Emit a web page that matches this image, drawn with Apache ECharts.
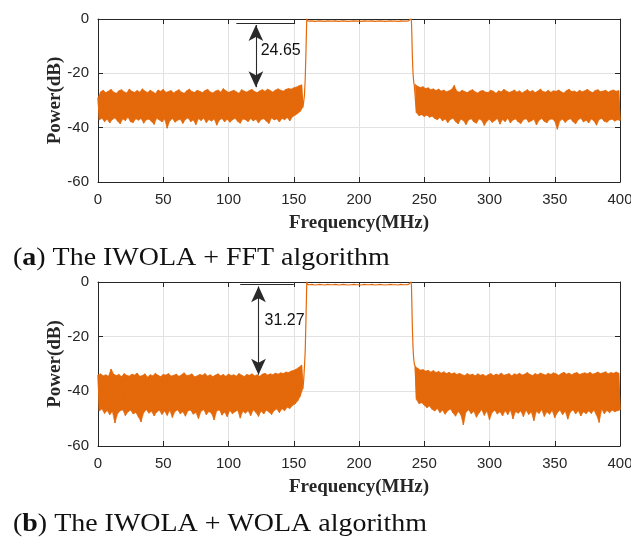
<!DOCTYPE html>
<html><head><meta charset="utf-8">
<script src="https://cdn.jsdelivr.net/npm/echarts@6/dist/echarts.min.js"></script>
<style>html,body{margin:0;padding:0;background:#fff;overflow:hidden;width:631px;height:541px}#c{width:631px;height:541px;overflow:hidden}</style>
</head><body><div id="c"></div>
<script>
// ---------- axis ticks ----------
const xTicks = [0, 50, 100, 150, 200, 250, 300, 350, 400];
const yTicks = [-60, -40, -20, 0];

// ---------- panel (a): IWOLA + FFT ----------
// noise floor below band: peaks (at 0,2,...,156 MHz) and troughs (at 1,3,...,157 MHz)
const aLeftHi = [
-29.0,-26.8,-26.2,-27.1,-26.5,-25.9,-26.9,-27.3,-26.4,-26.0,
-26.8,-27.2,-25.8,-26.6,-27.0,-26.3,-26.9,-25.7,-26.5,-27.1,
-26.2,-26.8,-27.4,-26.1,-26.6,-25.9,-27.0,-26.7,-26.3,-27.2,
-26.5,-26.0,-26.9,-27.3,-26.4,-25.8,-26.7,-27.0,-26.2,-26.6,
-27.1,-26.3,-25.9,-26.8,-27.2,-26.5,-26.1,-26.9,-25.6,-26.4,
-27.0,-26.6,-26.2,-26.8,-27.3,-26.0,-26.5,-26.9,-26.3,-25.9,
-26.7,-27.1,-26.4,-26.0,-26.6,-25.8,-26.3,-26.9,-26.1,-25.7,
-26.2,-26.5,-25.9,-25.6,-25.8,-25.3,-25.0,-24.6,-24.2];
const aLeftLo = [
-37.2,-36.5,-37.8,-36.9,-38.3,-37.0,-36.4,-37.6,-38.6,-36.8,
-37.4,-36.2,-37.9,-38.1,-36.7,-37.3,-36.6,-38.4,-37.1,-36.9,
-37.7,-38.8,-36.5,-37.2,-37.9,-36.8,-40.2,-37.5,-36.6,-38.0,
-37.3,-36.9,-38.5,-37.0,-36.4,-37.8,-37.2,-38.9,-36.7,-37.4,
-36.5,-38.2,-37.0,-37.6,-36.8,-39.1,-37.3,-36.6,-37.9,-36.9,
-38.0,-37.2,-36.5,-37.7,-38.4,-36.8,-37.1,-37.8,-36.6,-37.5,
-36.9,-38.3,-37.0,-36.7,-37.6,-38.5,-36.4,-37.2,-36.8,-37.9,
-36.6,-37.1,-36.3,-37.5,-36.0,-35.4,-34.8,-34.0,-32.5];
// rising edge
const aRiseF = [157.6,158.2,158.8,159.3,159.7,160.0,160.4,161.0];
const aRiseV = [-30.5,-28.0,-22.0,-13.0,-5.0,0.3,-0.6,-0.8];
// passband at 162,164,...,238 MHz
const aPass = [
-0.8,-0.7,-0.9,-0.8,-0.7,-0.8,-0.9,-0.7,-0.8,-0.8,
-0.7,-0.9,-0.8,-0.7,-0.8,-0.9,-0.8,-0.7,-0.8,-0.8,
-0.9,-0.7,-0.8,-0.8,-0.7,-0.9,-0.8,-0.7,-0.8,-0.9,
-0.8,-0.7,-0.8,-0.8,-0.9,-0.7,-0.8,-0.8,-0.7];
// falling edge
const aFallF = [239.4,239.9,240.2,240.5,240.9,241.4,241.9,242.4];
const aFallV = [-0.7,0.2,-1.0,-6.0,-14.0,-20.0,-23.0,-24.5];
// noise floor above band: peaks (243,245,...,399) and troughs (244,...,400)
const aRightHi = [
-24.0,-24.8,-25.2,-24.9,-25.6,-25.3,-26.0,-25.7,-26.3,-25.8,
-26.5,-26.1,-26.8,-26.4,-25.9,-24.4,-26.6,-26.9,-26.2,-26.7,
-27.1,-26.4,-26.0,-26.8,-27.2,-26.5,-26.3,-26.9,-27.0,-26.2,
-26.6,-27.3,-26.4,-26.8,-25.9,-26.5,-27.0,-26.7,-26.1,-26.9,
-26.4,-27.2,-26.6,-26.0,-26.8,-26.3,-27.1,-26.5,-25.8,-26.7,
-26.9,-26.2,-27.0,-26.4,-26.6,-26.1,-26.8,-27.2,-26.3,-25.9,
-26.7,-26.5,-27.0,-26.2,-26.8,-26.4,-25.9,-26.6,-27.1,-26.3,
-26.0,-26.7,-26.5,-26.2,-26.9,-26.4,-26.1,-26.6,-26.3];
const aRightLo = [
-34.5,-35.6,-35.2,-35.9,-35.4,-36.2,-35.8,-36.6,-37.1,-36.3,
-37.5,-36.8,-38.2,-37.0,-36.5,-37.8,-38.6,-36.9,-37.4,-38.9,
-37.2,-36.7,-37.9,-38.4,-36.8,-37.3,-39.2,-37.6,-36.9,-38.1,
-37.4,-36.6,-38.7,-37.0,-37.8,-36.5,-38.3,-37.2,-36.8,-37.9,
-38.5,-37.1,-36.7,-38.0,-37.5,-36.9,-39.0,-37.3,-36.6,-37.7,
-38.2,-37.0,-36.8,-37.6,-40.6,-37.4,-36.9,-38.1,-37.2,-36.7,
-37.8,-38.6,-37.1,-36.5,-37.9,-37.3,-38.3,-36.8,-37.5,-39.1,
-37.0,-36.6,-37.7,-38.0,-37.2,-36.9,-37.6,-37.1,-37.4];

// ---------- panel (b): IWOLA + WOLA ----------
const bLeftHi = [
-34.0,-33.6,-34.3,-33.9,-34.5,-31.8,-33.7,-34.2,-33.8,-34.6,
-33.5,-34.1,-34.4,-33.7,-34.0,-33.3,-34.5,-34.2,-33.6,-34.8,
-33.9,-34.3,-33.4,-34.1,-34.6,-33.8,-34.0,-33.5,-34.4,-34.1,
-33.7,-34.5,-33.9,-33.2,-34.2,-34.0,-33.6,-34.7,-34.3,-33.8,
-34.1,-33.5,-34.4,-33.9,-34.6,-34.0,-33.6,-34.3,-33.8,-34.5,
-33.7,-34.2,-33.9,-34.4,-33.5,-34.0,-34.6,-33.8,-34.1,-33.6,
-34.3,-33.9,-34.5,-33.7,-33.4,-34.0,-33.6,-33.9,-33.3,-33.7,
-33.2,-33.5,-32.9,-33.1,-32.6,-32.3,-31.8,-31.2,-30.4];
const bLeftLo = [
-47.2,-46.5,-48.1,-47.0,-48.6,-47.4,-51.6,-48.2,-47.1,-46.8,
-48.9,-47.5,-46.9,-48.3,-47.7,-49.4,-51.2,-47.8,-46.7,-48.0,
-47.3,-49.0,-47.6,-46.9,-48.5,-47.2,-48.8,-47.0,-49.6,-47.4,
-46.8,-48.2,-47.5,-49.1,-47.1,-46.9,-48.4,-47.7,-50.0,-47.3,
-46.7,-48.6,-47.4,-48.1,-50.5,-47.2,-46.8,-48.7,-47.6,-49.3,
-47.0,-48.2,-47.5,-46.9,-49.8,-47.3,-48.0,-47.1,-48.9,-46.8,
-47.7,-49.2,-47.2,-48.3,-46.9,-47.6,-48.5,-47.0,-46.5,-47.8,
-46.4,-47.1,-45.8,-46.3,-45.2,-44.6,-43.5,-41.8,-39.0];
const bRiseF = [157.6,158.2,158.8,159.3,159.7,160.0,160.4,161.0];
const bRiseV = [-36.0,-31.0,-25.0,-15.0,-6.0,0.2,-0.9,-1.0];
const bPass = [
-1.0,-0.9,-1.1,-1.0,-0.9,-1.0,-1.1,-0.9,-1.0,-1.0,
-0.9,-1.1,-1.0,-0.9,-1.0,-1.1,-1.0,-0.9,-1.0,-1.0,
-1.1,-0.9,-1.0,-1.0,-0.9,-1.1,-1.0,-0.9,-1.0,-1.1,
-1.0,-0.9,-1.0,-1.0,-1.1,-0.9,-1.0,-1.0,-0.9];
const bFallF = [239.4,239.9,240.2,240.5,240.9,241.4,241.9,242.4];
const bFallV = [-0.9,0.1,-1.5,-8.0,-17.0,-24.0,-28.0,-30.0];
const bRightHi = [
-30.8,-31.6,-32.2,-32.0,-32.6,-32.3,-32.9,-32.4,-33.1,-32.7,
-33.3,-32.8,-33.5,-33.0,-33.6,-33.2,-33.8,-33.4,-33.9,-34.2,
-33.5,-34.0,-33.7,-34.3,-33.6,-34.1,-33.8,-34.4,-33.9,-33.5,
-34.2,-33.7,-34.0,-33.3,-34.1,-33.8,-33.5,-34.3,-33.6,-33.9,
-33.4,-34.0,-33.7,-33.1,-33.8,-34.2,-33.5,-33.9,-33.3,-33.7,
-34.0,-33.4,-33.8,-33.2,-33.6,-34.1,-33.5,-33.0,-33.7,-33.3,
-33.9,-33.4,-33.1,-33.8,-33.5,-33.2,-33.6,-33.0,-33.7,-33.4,
-32.9,-33.5,-33.2,-32.8,-33.6,-33.1,-33.4,-32.9,-33.3];
const bRightLo = [
-43.0,-44.5,-44.2,-45.1,-46.0,-45.4,-46.6,-47.2,-46.3,-47.8,
-46.9,-48.4,-47.1,-46.5,-47.9,-49.1,-47.4,-48.6,-52.3,-47.6,
-46.8,-48.2,-47.3,-49.5,-47.9,-46.7,-48.8,-47.2,-50.4,-47.7,
-46.9,-48.3,-47.5,-49.0,-47.1,-48.6,-46.8,-50.1,-47.4,-48.0,
-47.2,-49.3,-46.9,-48.5,-47.6,-50.8,-47.3,-48.1,-46.7,-49.2,
-47.5,-48.4,-47.0,-49.7,-47.8,-46.9,-48.6,-47.3,-50.2,-47.6,
-46.8,-48.3,-47.1,-49.0,-47.5,-48.2,-47.2,-48.1,-46.9,-48.7,
-51.4,-46.6,-48.2,-47.0,-47.8,-46.9,-47.5,-47.1,-46.8];

// ---------- annotations (data units) ----------
const annA = {lineY: -1.4, lineX1: 106, lineX2: 151, arrowX: 121, arrowTop: -2.2, arrowBottom: -25.1, text: '24.65', textX: 140, textY: -11.7};
const annB = {lineY: -0.9, lineX1: 109, lineX2: 150, arrowX: 123, arrowTop: -1.6, arrowBottom: -33.9, text: '31.27', textX: 143, textY: -14.3};

const captionA = '({b|a}) The IWOLA + FFT algorithm';
const captionB = '({b|b}) The IWOLA + WOLA algorithm';

// ---------- build series ----------
function zig(startF, hi, lo) {
  const out = [];
  for (let i = 0; i < hi.length; i++) {
    out.push([startF + 2 * i, hi[i]]);
    out.push([startF + 2 * i + 1, lo[i]]);
  }
  return out;
}
// outline of the noise band: peaks forward, troughs backward
function band(startF, hi, lo) {
  const top = hi.map((v, i) => [startF + 2 * i, v]);
  const bot = lo.map((v, i) => [startF + 2 * i + 1, v]).reverse();
  return top.concat(bot);
}
function pairs(f, v) { return f.map((x, i) => [x, v[i]]); }
function passPts(v) { return v.map((y, i) => [162 + 2 * i, y]); }
function spectrum(lh, ll, rf, rv, pb, ff, fv, rh, rl) {
  return [].concat(zig(0, lh, ll), pairs(rf, rv), passPts(pb), pairs(ff, fv), zig(243, rh, rl));
}
const specA = spectrum(aLeftHi, aLeftLo, aRiseF, aRiseV, aPass, aFallF, aFallV, aRightHi, aRightLo);
const specB = spectrum(bLeftHi, bLeftLo, bRiseF, bRiseV, bPass, bFallF, bFallV, bRightHi, bRightLo);
const bandsA = [band(0, aLeftHi, aLeftLo), band(243, aRightHi, aRightLo)];
const bandsB = [band(0, bLeftHi, bLeftLo), band(243, bRightHi, bRightLo)];

const ORANGE = '#E4690B';
const AX = '#262626';
const labelFont = {fontFamily: 'Liberation Sans, Arial, sans-serif', fontSize: 15, color: AX};
const nameFont = {fontFamily: 'Liberation Serif, Times New Roman, serif', fontWeight: 'bold', fontSize: 19, color: AX};

function xMain(gi) {
  return {type: 'value', gridIndex: gi, min: 0, max: 400, interval: 50, position: 'bottom',
    name: 'Frequency(MHz)', nameLocation: 'middle', nameGap: 32, nameTextStyle: nameFont,
    nameMoveOverlap: false,
    axisLine: {show: true, onZero: false, lineStyle: {color: AX, width: 1}},
    axisTick: {show: true, inside: true, length: 5, lineStyle: {color: AX}},
    axisLabel: Object.assign({margin: 10, hideOverlap: false}, labelFont),
    splitLine: {show: true, lineStyle: {color: '#E2E2E2', width: 1}}};
}
function xTop(gi) {
  return {type: 'value', gridIndex: gi, min: 0, max: 400, interval: 50, position: 'top',
    axisLine: {show: true, onZero: false, lineStyle: {color: AX, width: 1}},
    axisTick: {show: true, inside: true, length: 5, lineStyle: {color: AX}},
    axisLabel: {show: false}, splitLine: {show: false}};
}
function yMain(gi) {
  return {type: 'value', gridIndex: gi, min: -60, max: 0, interval: 20, position: 'left',
    name: 'Power(dB)', nameLocation: 'middle', nameGap: 33, nameTextStyle: nameFont,
    nameMoveOverlap: false,
    axisLine: {show: true, onZero: false, lineStyle: {color: AX, width: 1}},
    axisTick: {show: true, inside: true, length: 5, lineStyle: {color: AX}},
    axisLabel: Object.assign({margin: 9}, labelFont),
    splitLine: {show: true, lineStyle: {color: '#E2E2E2', width: 1}}};
}
function yRight(gi) {
  return {type: 'value', gridIndex: gi, min: -60, max: 0, interval: 20, position: 'right',
    axisLine: {show: true, onZero: false, lineStyle: {color: AX, width: 1}},
    axisTick: {show: true, inside: true, length: 5, lineStyle: {color: AX}},
    axisLabel: {show: false}, splitLine: {show: false}};
}
function bandSeries(outline, xi, yi) {
  return {type: 'custom', xAxisIndex: xi, yAxisIndex: yi, data: outline, silent: true, z: 2,
    encode: {x: 0, y: 1},
    renderItem: function (params, api) {
      if (params.dataIndex !== 0) return null;
      const pts = outline.map(p => api.coord(p));
      return {type: 'polygon', shape: {points: pts},
        style: {fill: ORANGE, stroke: ORANGE, lineWidth: 0.6}};
    }};
}
function specSeries(data, xi, yi, ann) {
  const arrowSym = {symbol: 'arrow', symbolSize: [11, 16]};
  return {type: 'line', xAxisIndex: xi, yAxisIndex: yi, data: data, showSymbol: false,
    symbol: 'none', lineStyle: {color: ORANGE, width: 1.2}, itemStyle: {color: ORANGE},
    silent: true, z: 3,
    markLine: {silent: true, symbol: ['none', 'none'], animation: false,
      label: {show: false},
      lineStyle: {color: '#2a2a2a', width: 1.1, type: 'solid'},
      data: [
        [{coord: [ann.lineX1, ann.lineY]}, {coord: [ann.lineX2, ann.lineY]}],
        [Object.assign({coord: [ann.arrowX, ann.arrowTop]}, arrowSym),
         Object.assign({coord: [ann.arrowX, ann.arrowBottom]}, arrowSym)]
      ]},
    markPoint: {silent: true, animation: false, symbol: 'circle', symbolSize: 1,
      itemStyle: {color: 'rgba(0,0,0,0)'},
      label: {show: true, position: 'inside', formatter: '{c}',
        fontFamily: 'Liberation Sans, Arial, sans-serif', fontSize: 16, color: '#111'},
      data: [{coord: [ann.textX, ann.textY], value: ann.text}]}
  };
}

const chart = echarts.init(document.getElementById('c'), null, {renderer: 'canvas', width: 631, height: 541});
const capStyle = {fontFamily: 'Liberation Serif, Times New Roman, serif', fontSize: 26, fill: '#111',
  rich: {b: {fontFamily: 'Liberation Serif, Times New Roman, serif', fontSize: 26, fontWeight: 'bold'}},
  verticalAlign: 'middle', align: 'left'};
chart.setOption({
  animation: false,
  backgroundColor: '#fff',
  grid: [
    {left: 98, top: 19, width: 522, height: 163, outerBoundsMode: 'none', containLabel: false},
    {left: 98, top: 282, width: 522, height: 164, outerBoundsMode: 'none', containLabel: false}
  ],
  xAxis: [xMain(0), xTop(0), xMain(1), xTop(1)],
  yAxis: [yMain(0), yRight(0), yMain(1), yRight(1)],
  series: [
    bandSeries(bandsA[0], 0, 0), bandSeries(bandsA[1], 0, 0),
    bandSeries(bandsB[0], 2, 2), bandSeries(bandsB[1], 2, 2),
    specSeries(specA, 0, 0, annA), specSeries(specB, 2, 2, annB)
  ],
  graphic: [
    {type: 'text', left: 13, top: 245, scaleX: 1.075, style: Object.assign({text: captionA}, capStyle)},
    {type: 'text', left: 13, top: 511, scaleX: 1.075, style: Object.assign({text: captionB}, capStyle)}
  ]
});
</script></body></html>
